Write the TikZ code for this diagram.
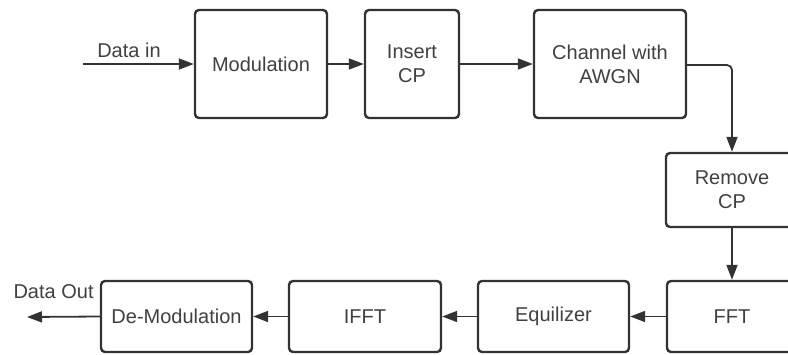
\documentclass[tikz,border=0pt]{standalone}
\usepackage{fontspec}
\setmainfont{Liberation Sans}
\usetikzlibrary{arrows.meta}
\definecolor{ink}{HTML}{333333}
\definecolor{txt}{HTML}{404040}
\tikzset{
  block/.style={draw=ink, line width=2.4pt, rounded corners=4pt, fill=white,
    align=center, text=txt, font=\fontsize{20}{24}\selectfont, inner sep=0pt},
  flow/.style={draw=ink, line width=1.8pt, -{Triangle[length=15pt,width=11pt]}},
  tag/.style={text=txt, font=\fontsize{20}{24}\selectfont, inner sep=0pt}
}
\begin{document}
\begin{tikzpicture}[x=1pt,y=-1pt]
  \useasboundingbox (0,0) rectangle (788,354);
  \clip (0,0) rectangle (788,354);

  % transmitter chain
  \node[block, minimum width=132pt, minimum height=108pt] (mod) at (261,64) {Modulation};
  \node[block, minimum width=94pt,  minimum height=108pt] (icp) at (412,64) {Insert\\CP};
  \node[block, minimum width=152pt, minimum height=108pt] (chn) at (610,64) {Channel with\\AWGN};

  % receiver chain
  \node[block, minimum width=132pt, minimum height=74pt] (rcp) at (732,190) {Remove\\CP};
  \node[block, minimum width=130pt, minimum height=71pt] (fft) at (732,316.5) {FFT};
  \node[block, minimum width=151pt, minimum height=71pt] (equ) at (553.5,316.5) {Equilizer};
  \node[block, minimum width=152pt, minimum height=71pt] (ifft) at (365,316.5) {IFFT};
  \node[block, minimum width=151pt, minimum height=71pt] (dem) at (176.5,316.5) {De-Modulation};

  \coordinate (src) at (83,64);
  \coordinate (snk) at (27,317);

  % connectors
  \draw[flow] (src) -- node[tag, above=5pt, pos=0.415] (lin) {Data in} (mod.west);
  \draw[flow] (mod) -- (icp);
  \draw[flow] (icp) -- (chn);
  \draw[flow, rounded corners=5pt] (chn.east |- 0,65) -| (rcp.north);
  \draw[flow] (rcp) -- (fft);
  \draw[flow] (fft) -- (equ);
  \draw[flow] (equ) -- (ifft);
  \draw[flow] (ifft) -- (dem);
  \draw[flow] (dem.west) -- node[tag, above=17pt, pos=0.635] (lout) {Data Out} (snk);
\end{tikzpicture}
\end{document}
